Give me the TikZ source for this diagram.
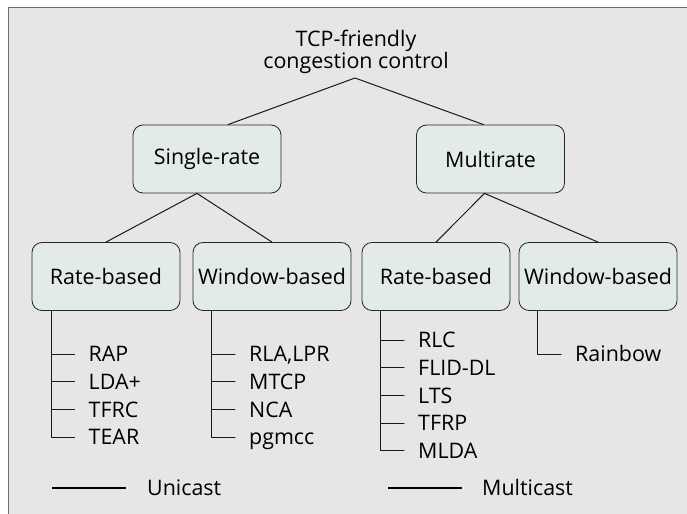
\documentclass[tikz,border=0pt]{standalone}
\usepackage{fontspec}
\setmainfont{Open Sans}
\usetikzlibrary{calc}
\definecolor{panelgray}{HTML}{E6E6E6}
\definecolor{boxmint}{HTML}{E2EBE7}
\definecolor{framegray}{HTML}{6F6F6F}
\begin{document}
\begin{tikzpicture}[x=1bp,y=-1bp, font=\fontsize{21.5}{21}\selectfont, line cap=round, line join=round,
  cat/.style={draw=black!85,fill=boxmint,line width=.8bp,rounded corners=10bp,minimum height=68bp,inner sep=0pt},
  item/.style={anchor=west,inner sep=0pt,text height=15.4bp,text depth=0bp},
  wire/.style={draw=black!90,line width=1bp},
  legendline/.style={draw=black,line width=1.8bp,line cap=butt}]
\clip (0,0) rectangle (687,514);
% grey panel, open to the right and bottom
\draw[draw=framegray,fill=panelgray,line width=1.6bp] (8.5,7.5) rectangle (700,530);
% root
\node[align=center,inner sep=0pt] (root) at (356,52) {TCP-friendly\\congestion control};
\coordinate (apex) at (355,78);
% first level
\node[cat,minimum width=148bp] (single) at (207,159) {Single-rate};
\node[cat,minimum width=148bp] (multi) at (490.5,159) {Multirate};
\draw[wire] ($(single.north)+(21,0)$) -- (apex) -- ($(multi.north)+(-7,0)$);
% second level
\node[cat,minimum width=148bp] (srrate) at (106,276.5) {Rate-based};
\node[cat,minimum width=158bp] (srwin) at (272,276.5) {Window-based};
\node[cat,minimum width=148bp] (mrrate) at (436,276.5) {Rate-based};
\node[cat,minimum width=158bp] (mrwin) at (598,276.5) {Window-based};
\draw[wire] (srrate.north) -- ($(single.south)+(-10,0)$) -- (srwin.north);
\draw[wire] (mrrate.north) -- ($(multi.south)+(-6,0)$) -- (mrwin.north);

% protocol lists
\foreach \i/\t in {0/RAP,1/LDA+,2/TFRC,3/TEAR} {\node[item] (sra\i) at (88.5,{354+27.7*\i}) {\t};}
\foreach \i/\t in {0/{RLA,LPR},1/MTCP,2/NCA,3/pgmcc} {\node[item] (swi\i) at (249,{354+27.7*\i}) {\t};}
\foreach \i/\t in {0/RLC,1/FLID-DL,2/LTS,3/TFRP,4/MLDA} {\node[item] (mra\i) at (418,{340+27.7*\i}) {\t};}
\node[item] (mwi0) at (575,354) {Rainbow};

\draw[wire] ($(srrate.south west)+(20,0)$) |- ($(sra3.west)+(-14,0)$);
\draw[wire] ($(srwin.south west)+(19,0)$) |- ($(swi3.west)+(-14,0)$);
\draw[wire] ($(mrrate.south west)+(19,0)$) |- ($(mra4.west)+(-14,0)$);
\draw[wire] ($(mrwin.south west)+(19,0)$) |- ($(mwi0.west)+(-14,0)$);
\foreach \n in {sra0,sra1,sra2,swi0,swi1,swi2,mra0,mra1,mra2,mra3} {\draw[wire] ($(\n.west)+(-37,0)$) -- ($(\n.west)+(-14,0)$);}

% legend
\node[item] (unicast) at (147,488) {Unicast};
\node[item] (multicast) at (482,488) {Multicast};
\draw[legendline] ($(unicast.west)+(-95,0)$) -- ($(unicast.west)+(-21,0)$);
\draw[legendline] ($(multicast.west)+(-94,0)$) -- ($(multicast.west)+(-20,0)$);
\end{tikzpicture}
\end{document}
